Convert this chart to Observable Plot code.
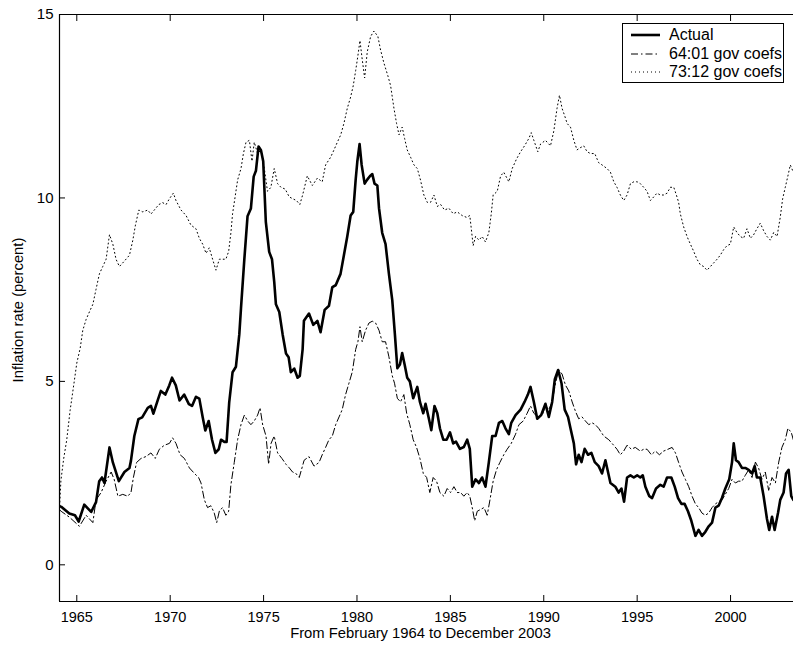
<!DOCTYPE html>
<html>
<head>
<meta charset="utf-8">
<script src="https://cdn.jsdelivr.net/npm/d3@7"></script>
<script src="https://cdn.jsdelivr.net/npm/@observablehq/plot@0.6"></script>
<style>
  html, body { margin: 0; padding: 0; background: #fff; }
  #wrap { position: relative; width: 793px; height: 650px; font-family: "Liberation Sans", Arial, sans-serif; }
  #legend { position: absolute; left: 622px; top: 23px; width: 162px; height: 60px; border: 1px solid #000; background: #fff; box-sizing: border-box; padding-top: 2px; }
  .row { height: 18.5px; display: flex; align-items: center; font-size: 16px; line-height: 18px; color: #000; }
  .row svg { margin-left: 8px; margin-right: 9px; }
</style>
</head>
<body>
<div id="wrap"></div>
<script>
// ---- data: [year, inflation rate %] ----
const seriesNames = ["Actual", "64:01 gov coefs", "73:12 gov coefs"];
const xTicks = [1965, 1970, 1975, 1980, 1985, 1990, 1995, 2000];
const yTicks = [0, 5, 10, 15];
const xDomain = [1964.074, 2003.37];
const yDomain = [-1, 15];
const xLabel = "From February 1964 to December 2003";
const yLabel = "Inflation rate (percent)";

const actualData = [
[1964.08,1.6],[1964.17,1.58],[1964.6,1.4],[1964.9,1.35],[1965.1,1.18],[1965.4,1.64],[1965.77,1.44],[1966.03,1.71],[1966.2,2.28],[1966.35,2.38],[1966.48,2.23],[1966.75,3.2],[1966.93,2.79],[1967.25,2.28],[1967.55,2.53],[1967.82,2.64],[1967.9,2.84],[1968.08,3.51],[1968.3,3.97],[1968.5,4.02],[1968.8,4.28],[1968.97,4.33],[1969.1,4.12],[1969.33,4.48],[1969.5,4.74],[1969.74,4.64],[1969.95,4.89],[1970.1,5.1],[1970.3,4.89],[1970.5,4.48],[1970.75,4.64],[1971.0,4.38],[1971.17,4.33],[1971.38,4.58],[1971.56,4.53],[1971.74,4.02],[1971.88,3.66],[1972.06,3.92],[1972.24,3.41],[1972.42,3.05],[1972.6,3.15],[1972.72,3.41],[1972.9,3.35],[1973.02,3.35],[1973.16,4.43],[1973.34,5.25],[1973.52,5.4],[1973.7,6.28],[1973.79,6.99],[1973.97,8.33],[1974.14,9.5],[1974.32,9.71],[1974.47,10.58],[1974.59,10.74],[1974.73,11.4],[1974.86,11.3],[1974.98,11.0],[1975.12,9.35],[1975.3,8.53],[1975.45,8.33],[1975.57,7.71],[1975.66,7.1],[1975.84,6.89],[1976.02,6.28],[1976.2,5.76],[1976.34,5.66],[1976.46,5.25],[1976.64,5.35],[1976.82,5.1],[1976.94,5.15],[1977.09,5.87],[1977.16,6.65],[1977.43,6.85],[1977.66,6.54],[1977.88,6.65],[1978.05,6.34],[1978.27,6.95],[1978.5,7.06],[1978.68,7.57],[1978.86,7.62],[1979.12,7.93],[1979.3,8.44],[1979.48,8.95],[1979.66,9.52],[1979.8,9.62],[1979.93,10.5],[1980.02,11.0],[1980.14,11.47],[1980.25,10.9],[1980.41,10.39],[1980.55,10.5],[1980.7,10.6],[1980.82,10.65],[1980.94,10.39],[1981.09,10.34],[1981.18,9.72],[1981.35,9.05],[1981.53,8.74],[1981.71,7.93],[1981.89,7.21],[1982.03,6.28],[1982.16,5.36],[1982.3,5.46],[1982.42,5.77],[1982.55,5.46],[1982.69,5.1],[1982.83,5.0],[1983.01,4.54],[1983.23,4.85],[1983.37,4.44],[1983.55,4.13],[1983.67,4.39],[1983.85,3.98],[1983.98,3.67],[1984.15,4.33],[1984.3,4.13],[1984.44,3.72],[1984.62,3.41],[1984.8,3.41],[1984.98,3.61],[1985.15,3.31],[1985.3,3.36],[1985.51,3.16],[1985.72,3.21],[1985.9,3.41],[1986.04,3.16],[1986.17,2.13],[1986.35,2.33],[1986.53,2.23],[1986.7,2.38],[1986.88,2.13],[1987.06,2.8],[1987.24,3.51],[1987.42,3.51],[1987.6,3.87],[1987.78,3.92],[1987.95,3.72],[1988.13,3.56],[1988.26,3.87],[1988.49,4.08],[1988.76,4.23],[1988.97,4.44],[1989.15,4.64],[1989.29,4.85],[1989.47,4.44],[1989.65,3.98],[1989.86,4.08],[1990.09,4.39],[1990.27,4.03],[1990.45,4.44],[1990.59,5.05],[1990.77,5.31],[1990.95,4.95],[1991.12,4.23],[1991.3,4.03],[1991.43,3.72],[1991.61,3.31],[1991.73,2.74],[1991.87,3.0],[1992.02,2.8],[1992.19,3.16],[1992.37,3.0],[1992.55,3.05],[1992.73,2.8],[1992.94,2.69],[1993.12,2.49],[1993.3,2.85],[1993.57,2.23],[1993.83,2.13],[1994.01,1.97],[1994.16,2.08],[1994.3,1.72],[1994.46,2.38],[1994.64,2.44],[1994.82,2.38],[1995.0,2.44],[1995.17,2.38],[1995.3,2.44],[1995.44,2.13],[1995.65,1.87],[1995.8,1.82],[1996.01,2.08],[1996.24,2.18],[1996.42,2.13],[1996.6,2.38],[1996.83,2.38],[1997.01,2.13],[1997.19,1.82],[1997.37,1.66],[1997.54,1.66],[1997.72,1.46],[1997.9,1.2],[1998.12,0.79],[1998.29,0.95],[1998.47,0.79],[1998.65,0.9],[1998.83,1.05],[1999.01,1.15],[1999.19,1.56],[1999.36,1.61],[1999.54,1.82],[1999.72,2.08],[1999.93,2.33],[2000.08,2.8],[2000.17,3.31],[2000.29,2.85],[2000.43,2.8],[2000.61,2.64],[2000.79,2.64],[2000.97,2.59],[2001.15,2.49],[2001.29,2.69],[2001.41,2.38],[2001.59,2.38],[2001.77,1.87],[2001.95,1.25],[2002.07,0.95],[2002.22,1.31],[2002.36,0.95],[2002.54,1.41],[2002.66,1.77],[2002.84,1.97],[2002.97,2.49],[2003.11,2.59],[2003.25,1.87],[2003.36,1.77]
];

const gov6401Data = [
[1964.08,1.5],[1964.16,1.46],[1964.6,1.3],[1965.14,1.05],[1965.5,1.35],[1965.86,1.15],[1966.03,1.77],[1966.3,1.97],[1966.57,2.28],[1966.84,2.53],[1967.0,2.33],[1967.2,1.87],[1967.46,1.92],[1967.73,1.87],[1967.9,1.97],[1968.03,2.38],[1968.2,2.79],[1968.44,2.9],[1968.7,2.95],[1968.97,3.05],[1969.2,2.9],[1969.42,3.15],[1969.69,3.26],[1969.96,3.31],[1970.13,3.46],[1970.31,3.31],[1970.53,3.0],[1970.76,2.9],[1971.03,2.64],[1971.3,2.49],[1971.52,2.38],[1971.65,2.23],[1971.83,1.77],[1972.0,1.56],[1972.18,1.61],[1972.36,1.41],[1972.49,1.15],[1972.63,1.46],[1972.8,1.56],[1972.98,1.35],[1973.13,1.46],[1973.25,2.18],[1973.43,2.79],[1973.61,3.41],[1973.79,3.82],[1973.97,4.08],[1974.15,3.92],[1974.32,3.82],[1974.5,3.92],[1974.68,4.08],[1974.81,4.28],[1974.95,3.82],[1975.13,3.51],[1975.27,2.74],[1975.4,3.31],[1975.57,3.51],[1975.75,3.05],[1975.98,2.9],[1976.2,2.74],[1976.38,2.64],[1976.55,2.53],[1976.73,2.49],[1976.91,2.38],[1977.17,2.85],[1977.43,2.95],[1977.7,2.69],[1977.97,2.79],[1978.14,3.0],[1978.32,3.2],[1978.5,3.41],[1978.68,3.51],[1978.86,3.82],[1979.04,4.03],[1979.21,4.23],[1979.39,4.64],[1979.57,4.95],[1979.75,5.26],[1979.93,5.87],[1980.05,6.08],[1980.16,6.49],[1980.28,6.08],[1980.46,6.39],[1980.64,6.59],[1980.82,6.64],[1981.0,6.59],[1981.18,6.39],[1981.35,6.08],[1981.53,6.08],[1981.71,5.67],[1981.89,5.15],[1982.01,4.95],[1982.16,4.54],[1982.33,4.44],[1982.51,4.64],[1982.66,4.13],[1982.83,3.82],[1983.01,3.41],[1983.19,3.2],[1983.37,2.9],[1983.55,2.49],[1983.73,2.38],[1983.9,1.97],[1984.08,2.38],[1984.26,2.28],[1984.44,1.97],[1984.65,1.87],[1984.83,2.08],[1985.01,1.97],[1985.19,2.13],[1985.37,1.97],[1985.55,1.97],[1985.72,1.87],[1985.9,1.97],[1986.04,1.87],[1986.17,1.56],[1986.3,1.2],[1986.44,1.46],[1986.62,1.51],[1986.8,1.56],[1986.97,1.35],[1987.12,1.77],[1987.29,2.28],[1987.47,2.59],[1987.65,2.79],[1987.86,3.0],[1988.04,3.15],[1988.26,3.31],[1988.49,3.56],[1988.67,3.82],[1988.9,3.92],[1989.11,4.13],[1989.29,4.33],[1989.47,4.13],[1989.68,4.03],[1989.92,4.08],[1990.09,4.33],[1990.27,4.23],[1990.45,4.44],[1990.63,4.95],[1990.8,5.31],[1990.98,5.2],[1991.16,4.9],[1991.34,4.74],[1991.52,4.44],[1991.7,4.18],[1991.87,3.98],[1992.05,4.03],[1992.23,3.92],[1992.41,3.82],[1992.59,3.87],[1992.76,3.82],[1992.94,3.72],[1993.21,3.51],[1993.48,3.41],[1993.74,3.26],[1993.92,3.15],[1994.1,3.0],[1994.28,3.1],[1994.46,3.26],[1994.69,3.15],[1994.9,3.2],[1995.17,3.1],[1995.35,3.15],[1995.53,3.15],[1995.76,3.0],[1995.98,3.1],[1996.19,3.0],[1996.42,3.1],[1996.65,3.15],[1996.87,3.2],[1997.05,3.05],[1997.22,2.79],[1997.4,2.53],[1997.58,2.33],[1997.76,2.13],[1997.94,1.87],[1998.12,1.66],[1998.29,1.56],[1998.47,1.41],[1998.65,1.35],[1998.83,1.41],[1999.01,1.56],[1999.19,1.66],[1999.36,1.72],[1999.54,1.77],[1999.72,1.92],[1999.9,2.08],[2000.08,2.33],[2000.26,2.23],[2000.43,2.28],[2000.61,2.28],[2000.79,2.44],[2000.97,2.59],[2001.15,2.38],[2001.33,2.8],[2001.5,2.64],[2001.68,2.33],[2001.86,2.53],[2002.04,2.03],[2002.22,2.38],[2002.4,2.23],[2002.58,2.8],[2002.75,3.2],[2002.93,3.41],[2003.07,3.72],[2003.25,3.61],[2003.36,3.41]
];

const gov7312Data = [
[1964.08,1.6],[1964.15,2.3],[1964.3,2.9],[1964.46,3.4],[1964.64,4.2],[1964.85,4.95],[1965.0,5.5],[1965.18,5.9],[1965.32,6.39],[1965.5,6.69],[1965.68,6.9],[1965.86,7.1],[1966.03,7.51],[1966.21,7.93],[1966.39,8.13],[1966.57,8.33],[1966.75,9.0],[1966.93,8.74],[1967.1,8.33],[1967.28,8.13],[1967.55,8.28],[1967.82,8.44],[1968.0,8.85],[1968.14,9.26],[1968.32,9.67],[1968.53,9.62],[1968.8,9.67],[1968.97,9.56],[1969.15,9.67],[1969.39,9.82],[1969.6,9.87],[1969.78,9.82],[1969.96,9.98],[1970.17,10.13],[1970.31,9.93],[1970.58,9.67],[1970.85,9.52],[1971.11,9.26],[1971.38,9.16],[1971.56,8.9],[1971.74,8.74],[1971.92,8.49],[1972.09,8.64],[1972.27,8.33],[1972.45,8.03],[1972.63,8.33],[1972.8,8.33],[1972.98,8.33],[1973.13,8.54],[1973.25,9.05],[1973.34,9.57],[1973.49,10.08],[1973.61,10.49],[1973.79,10.8],[1973.92,11.21],[1974.06,11.52],[1974.24,11.57],[1974.38,11.0],[1974.5,11.52],[1974.68,11.21],[1974.86,11.31],[1975.04,10.8],[1975.21,10.18],[1975.39,10.29],[1975.57,10.8],[1975.75,10.39],[1975.93,10.29],[1976.16,10.24],[1976.37,10.03],[1976.55,9.98],[1976.76,9.93],[1976.94,9.82],[1977.09,10.08],[1977.34,10.6],[1977.61,10.34],[1977.88,10.54],[1978.14,10.44],[1978.32,10.9],[1978.59,11.11],[1978.77,11.31],[1978.95,11.52],[1979.13,11.72],[1979.3,12.03],[1979.48,12.44],[1979.66,12.75],[1979.8,13.06],[1979.93,13.47],[1980.05,13.88],[1980.16,14.29],[1980.28,13.78],[1980.41,13.27],[1980.55,13.98],[1980.73,14.4],[1980.91,14.55],[1981.12,14.4],[1981.26,14.04],[1981.44,13.68],[1981.66,13.32],[1981.8,13.06],[1981.98,12.44],[1982.12,12.03],[1982.25,11.72],[1982.42,11.93],[1982.55,11.62],[1982.69,11.31],[1982.87,11.11],[1983.05,10.9],[1983.23,10.8],[1983.4,10.49],[1983.58,10.08],[1983.76,9.88],[1983.94,9.88],[1984.12,10.08],[1984.3,9.77],[1984.48,9.82],[1984.69,9.67],[1984.92,9.72],[1985.15,9.57],[1985.37,9.62],[1985.63,9.52],[1985.87,9.47],[1986.04,9.52],[1986.12,9.16],[1986.22,8.7],[1986.35,8.95],[1986.53,8.85],[1986.7,8.95],[1986.88,8.8],[1987.06,9.06],[1987.19,9.57],[1987.29,10.08],[1987.51,10.18],[1987.69,10.6],[1987.86,10.7],[1988.13,10.44],[1988.31,10.8],[1988.54,11.06],[1988.76,11.26],[1988.97,11.42],[1989.2,11.62],[1989.33,11.78],[1989.47,11.57],[1989.68,11.26],[1989.83,11.47],[1990.09,11.57],[1990.36,11.42],[1990.54,11.83],[1990.71,12.44],[1990.84,12.8],[1990.98,12.44],[1991.12,12.24],[1991.25,12.03],[1991.43,11.93],[1991.61,11.57],[1991.78,11.31],[1991.96,11.37],[1992.14,11.42],[1992.32,11.26],[1992.5,11.21],[1992.73,11.21],[1992.94,10.96],[1993.12,10.9],[1993.39,10.8],[1993.57,10.7],[1993.75,10.44],[1993.92,10.29],[1994.1,10.08],[1994.28,9.93],[1994.46,10.08],[1994.64,10.39],[1994.82,10.44],[1995.0,10.44],[1995.17,10.39],[1995.35,10.29],[1995.53,10.18],[1995.71,9.93],[1995.89,10.03],[1996.06,10.13],[1996.24,10.08],[1996.42,10.08],[1996.6,10.13],[1996.78,10.29],[1996.96,10.29],[1997.1,10.08],[1997.22,9.88],[1997.31,9.57],[1997.49,9.21],[1997.67,8.95],[1997.85,8.74],[1998.03,8.54],[1998.2,8.33],[1998.38,8.18],[1998.56,8.13],[1998.74,8.03],[1998.92,8.13],[1999.1,8.23],[1999.28,8.33],[1999.45,8.44],[1999.63,8.59],[1999.81,8.7],[1999.99,8.74],[2000.17,9.21],[2000.34,9.06],[2000.52,8.95],[2000.7,8.9],[2000.88,9.16],[2001.06,8.9],[2001.24,9.0],[2001.41,9.16],[2001.59,9.31],[2001.77,9.11],[2001.95,8.95],[2002.13,8.85],[2002.31,9.06],[2002.49,8.95],[2002.66,9.47],[2002.79,9.98],[2002.93,10.29],[2003.07,10.6],[2003.2,10.9],[2003.36,10.7]
];

// ---- styles ----
const styles = [
  {width: 2.6, dash: null},
  {width: 1, dash: "7,3,1.5,3"},
  {width: 1, dash: "1,3"}
];
const toRows = (arr) => arr.map(([year, value]) => ({year, value}));
const allSeries = [actualData, gov6401Data, gov7312Data];

const chart = Plot.plot({
  width: 793,
  height: 650,
  marginLeft: 59,
  marginRight: 0,
  marginTop: 14,
  marginBottom: 49,
  style: {fontFamily: "'Liberation Sans', Arial, sans-serif", fontSize: "14.5px", color: "#000", background: "#fff", overflow: "visible"},
  x: {domain: xDomain},
  y: {domain: yDomain},
  marks: [
    ...allSeries.map((s, i) => Plot.line(toRows(s), {
      x: "year", y: "value", stroke: "#000",
      strokeWidth: styles[i].width,
      strokeDasharray: styles[i].dash,
      strokeLinejoin: "round", clip: true
    })),
    Plot.ruleY(yDomain, {stroke: "#000", strokeWidth: 1.2}),
    Plot.ruleX([xDomain[0]], {stroke: "#000", strokeWidth: 1.2}),
    Plot.axisY(yTicks, {anchor: "left", tickSize: -6, tickPadding: 12, tickFormat: d => String(d), label: null, fontSize: 15}),
    Plot.axisX(xTicks, {anchor: "bottom", tickSize: -6, tickPadding: 16.5, tickFormat: d => String(d), label: null, fontSize: 14.5}),
    Plot.axisX(xTicks, {anchor: "top", tickSize: -6, tickFormat: () => "", label: null}),
    Plot.text([xLabel], {text: d => d, frameAnchor: "bottom", dy: 36, dx: -6, fontSize: 14.8}),
    Plot.text([yLabel], {text: d => d, frameAnchor: "left", textAnchor: "middle", dx: -41, dy: 2, rotate: -90, fontSize: 14.8})
  ]
});

const wrap = document.getElementById("wrap");
wrap.appendChild(chart);

// legend
const legend = document.createElement("div");
legend.id = "legend";
seriesNames.forEach((name, i) => {
  const row = document.createElement("div");
  row.className = "row";
  const st = styles[i];
  row.innerHTML = `<svg width="29" height="10"><line x1="0" x2="29" y1="5" y2="5" stroke="#000" stroke-width="${st.width}" ${st.dash ? `stroke-dasharray="${st.dash}"` : ""}/></svg><span>${name}</span>`;
  legend.appendChild(row);
});
wrap.appendChild(legend);
</script>
</body>
</html>
